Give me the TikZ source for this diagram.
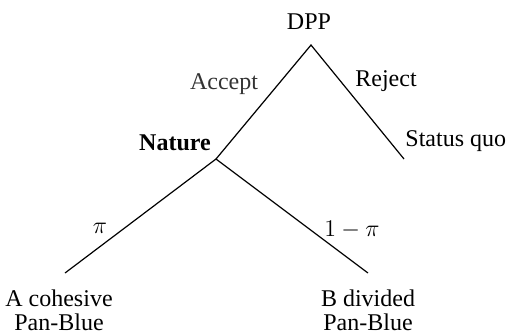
\documentclass[tikz,border=0pt]{standalone}
\usepackage{fontspec}
\setmainfont{Liberation Serif}
\tikzset{
  branch/.style={line width=0.6pt},
  lbl/.style={font=\fontsize{12}{12}\selectfont, inner sep=0pt},
  leaf/.style={lbl, align=center}
}
\begin{document}
\begin{tikzpicture}[x=0.5pt, y=-0.5pt]
    \useasboundingbox (0,0) rectangle (507,333);

    % Decision nodes
    \coordinate (dpp) at (311,45);
    \coordinate (nature) at (216,159);
    \coordinate (statusquo) at (404,159);
    \coordinate (cohesive) at (65,273);
    \coordinate (divided) at (368,273);

    % Draw the branches
    \draw[branch] (nature) -- (dpp) -- (statusquo);
    \draw[branch] (cohesive) -- (nature) -- (divided);

    % Player and move labels
    \node[lbl] (dpplab) at (309,22) {DPP};
    \node[lbl, text=black!80] (accept) at (224,84) {Accept};
    \node[lbl] (reject) at (386,81) {Reject};
    \node[lbl, font=\fontsize{12}{12}\selectfont\bfseries] (naturelab) at (175,143) {Nature};
    \node[lbl, anchor=west] (sqlab) at (405,141) {Status quo};
    \node[lbl] (pi) at (100,228) {$\pi$};
    \node[lbl] (onepi) at (352,230) {$1-\pi$};

    % Outcomes
    \node[leaf] (alab) at (59,310) {A cohesive\\Pan-Blue};
    \node[leaf] (blab) at (368,310) {B divided\\Pan-Blue};
\end{tikzpicture}
\end{document}
